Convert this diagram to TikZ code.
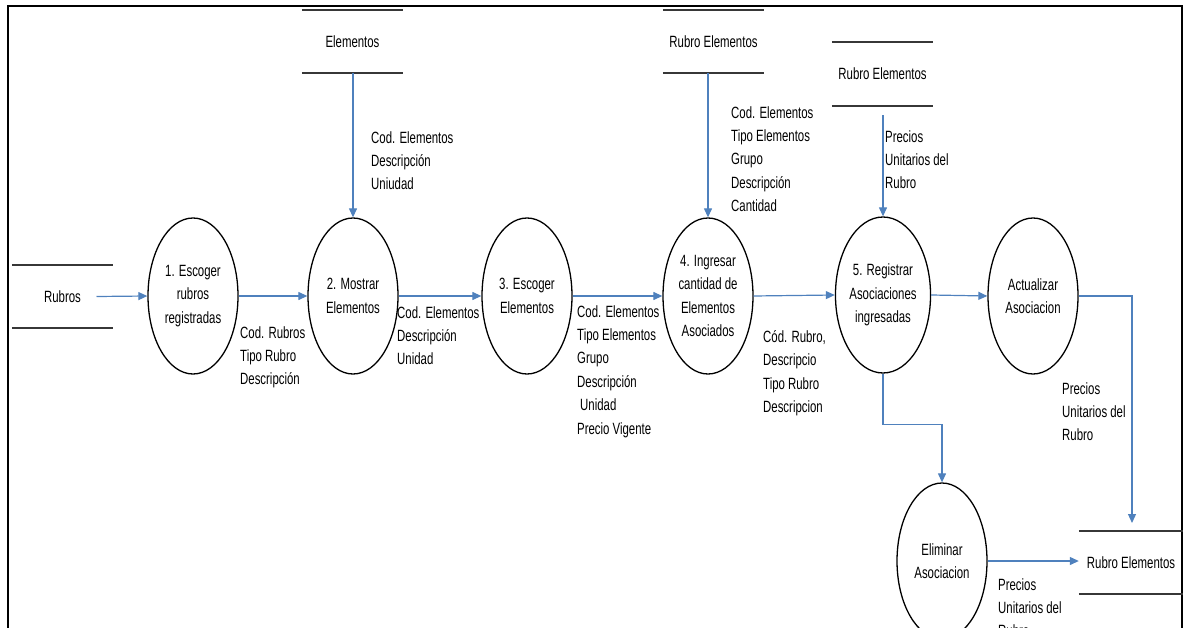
\documentclass[tikz,border=0pt]{standalone}
\usepackage{fontspec}
\setmainfont{Liberation Sans}[FakeStretch=0.7]
\usetikzlibrary{shapes.geometric,arrows.meta,calc}
\definecolor{flowblue}{RGB}{79,129,189}
\definecolor{storegray}{RGB}{55,55,55}

\begin{document}
\begin{tikzpicture}[x=1pt,y=-1pt,
  every node/.style={font=\fontsize{16.3}{23.4}\selectfont, inner sep=0pt},
  proc/.style={ellipse, draw=black, line width=1.3pt, minimum width=90pt,
    minimum height=156pt, align=center},
  store/.style={minimum width=101pt, minimum height=63pt},
  lbl/.style={align=left, anchor=north west},
  flow/.style={draw=flowblue, line width=1.2pt, -{Triangle[length=9pt,width=8pt]}},
  storeline/.style={draw=storegray, line width=2.4pt},
]
\useasboundingbox (0,0) rectangle (1190,628);
\clip (0,0) rectangle (1190,628);

% outer frame
\draw[line width=2.6pt] (8,660) -- (8,6) -- (1182,6) -- (1182,660);

% data stores
\node[store] (sEl)  at (352.5,41.5) {Elementos};
\node[store] (sRE1) at (713.5,41.5) {Rubro Elementos};
\node[store, minimum height=64pt] (sRE2) at (882.5,74) {Rubro Elementos};
\node[store] (sRub) at (62.5,296.5) {Rubros};
\node[store, minimum width=104pt] (sRE3) at (1131,562.5) {Rubro Elementos};
\foreach \s in {sEl,sRE1,sRE2,sRub,sRE3}{
  \draw[storeline] (\s.north west) -- (\s.north east);
  \draw[storeline] (\s.south west) -- (\s.south east);
}

% processes
\node[proc] (p1) at (193,296)  {1. Escoger\\rubros\\registradas};
\node[proc] (p2) at (353,296)  {2. Mostrar\\Elementos};
\node[proc] (p3) at (527,296)  {3. Escoger\\Elementos};
\node[proc] (p4) at (708,296)  {4. Ingresar\\cantidad de\\Elementos\\Asociados};
\node[proc] (p5) at (883,295)  {5. Registrar\\Asociaciones\\ingresadas};
\node[proc] (pa) at (1033,296) {Actualizar\\Asociacion};
\node[proc] (pe) at (942,561)  {Eliminar\\Asociacion};

% data flows
\draw[flow] ($(sRub.center)+(34,0)$) -- (p1.west);
\draw[flow] (p1.east) -- (p2.west);
\draw[flow] (p2.east) -- (p3.west);
\draw[flow] (p3.east) -- (p4.west);
\draw[flow] (p4.east) -- (p5.west);
\draw[flow] (p5.east) -- (pa.west);
\draw[flow] (p2.north |- sEl.south) -- (p2.north);
\draw[flow] (p4.north |- sRE1.south) -- (p4.north);
\draw[flow] ([yshift=-9pt]p5.north |- sRE2.south) -- (p5.north);
\draw[flow] (p5.south) |- ($(pe.north)+(0,-58)$) -- (pe.north);
\coordinate (sRE3in) at (1132,523);
\draw[flow] (pa.east) -| (sRE3in);
\draw[flow] (pe.east) -- (pe.east -| sRE3.west);

% flow labels
\node[lbl] (l1) at (240,326) {Cod. Rubros\\Tipo Rubro\\Descripción};
\node[lbl] (l2) at (371,131) {Cod. Elementos\\Descripción\\Uniudad};
\node[lbl] (l3) at (397,306) {Cod. Elementos\\Descripción\\Unidad};
\node[lbl] (l4) at (577,305) {Cod. Elementos\\Tipo Elementos\\Grupo\\Descripción\\\hspace*{3pt}Unidad\\Precio Vigente};
\node[lbl] (l5) at (731,106) {Cod. Elementos\\Tipo Elementos\\Grupo\\Descripción\\Cantidad};
\node[lbl] (l6) at (885,130) {Precios\\Unitarios del\\Rubro};
\node[lbl] (l7) at (763,330) {Cód. Rubro,\\Descripcio\\Tipo Rubro\\Descripcion};
\node[lbl] (l8) at (1062,382) {Precios\\Unitarios del\\Rubro};
\node[lbl] (l9) at (998,578) {Precios\\Unitarios del\\Rubro};
\end{tikzpicture}
\end{document}
